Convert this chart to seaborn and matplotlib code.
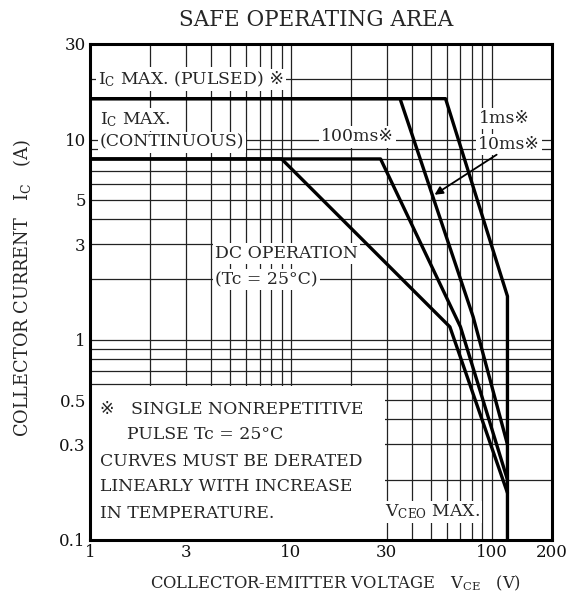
import matplotlib
matplotlib.use("Agg")
import matplotlib.pyplot as plt
import matplotlib.ticker as mticker
from matplotlib.patches import Rectangle
import seaborn as sns

# safe operating area curves (V_CE in V, I_C in A)
dc_v = [1, 9, 62, 120]
dc_i = [8, 8, 1.16, 0.172]
ms100_v = [1, 28, 70, 120]
ms100_i = [8, 8, 1.16, 0.20]
ms10_v = [1, 35, 81, 120]
ms10_i = [16, 16, 1.30, 0.30]
ms1_v = [1, 59, 120, 120]
ms1_i = [16, 16, 1.65, 0.1]

x_major = [1, 3, 10, 30, 100, 200]
x_labels = ["1", "3", "10", "30", "100", "200"]
y_major = [0.1, 0.3, 0.5, 1, 3, 5, 10, 30]
y_labels = ["0.1", "0.3", "0.5", "1", "3", "5", "10", "30"]

sns.set_style("white")
fam = ["DejaVu Serif", "DejaVu Sans", "Noto Sans CJK JP"]
plt.rcParams["font.family"] = fam
plt.rcParams["mathtext.default"] = "regular"

fig = plt.figure(figsize=(5.75, 6.04), dpi=100)
ax = fig.add_axes([90 / 575, 64 / 604, 462 / 575, 496 / 604])

for v, i in [(dc_v, dc_i), (ms100_v, ms100_i), (ms10_v, ms10_i), (ms1_v, ms1_i)]:
    sns.lineplot(x=v, y=i, ax=ax, color="black", lw=2.4, sort=False,
                 estimator=None, zorder=4)

ax.set_xscale("log")
ax.set_yscale("log")
ax.set_xlim(1, 200)
ax.set_ylim(0.1, 30)
ax.xaxis.set_major_locator(mticker.FixedLocator(x_major))
ax.xaxis.set_major_formatter(mticker.FixedFormatter(x_labels))
ax.yaxis.set_major_locator(mticker.FixedLocator(y_major))
ax.yaxis.set_major_formatter(mticker.FixedFormatter(y_labels))
ax.xaxis.set_minor_locator(mticker.LogLocator(base=10, subs=range(1, 10), numticks=20))
ax.yaxis.set_minor_locator(mticker.LogLocator(base=10, subs=range(1, 10), numticks=20))
ax.xaxis.set_minor_formatter(mticker.NullFormatter())
ax.yaxis.set_minor_formatter(mticker.NullFormatter())
ax.tick_params(which="both", length=0, labelsize=12, pad=3, labelcolor="#111111")
ax.set_axisbelow(True)
ax.grid(which="both", color="#222222", lw=0.9)
for s in ax.spines.values():
    s.set_linewidth(2.2)
    s.set_color("black")

# white area behind the note
ax.add_patch(Rectangle((1, 0.1), 28.6, 0.49, facecolor="white", edgecolor="none", zorder=1))

box = dict(facecolor="white", edgecolor="none", pad=1.5)
fs = 12.4
t = ax.text(1.1, 20, r"$I_C$ MAX. (PULSED)", fontsize=fs, va="center", bbox=box, zorder=3)
# mark drawn separately (mathtext string cannot fall back to another font)
ax.annotate(" ※", xy=(1, 0.5), xycoords=t, xytext=(0, 0), textcoords="offset points",
            fontsize=fs, va="center", ha="left", bbox=box, zorder=2.5)
ax.text(1.12, 12.6, r"$I_C$ MAX.", fontsize=fs, va="center", bbox=box, zorder=3)
ax.text(1.12, 9.7, "(CONTINUOUS)", fontsize=fs, va="center", bbox=box, zorder=3)
ax.text(21.4, 10.3, "100ms※", fontsize=fs, ha="center", va="center", bbox=box, zorder=3)
ax.text(116, 12.8, "1ms※", fontsize=fs, ha="center", va="center", bbox=box, zorder=3)
ax.text(122, 9.4, "10ms※", fontsize=fs, ha="center", va="center", bbox=box, zorder=3)
ax.text(4.2, 2.71, "DC OPERATION", fontsize=fs, va="center", bbox=box, zorder=3)
ax.text(4.2, 1.99, "(Tc = 25°C)", fontsize=fs, va="center", bbox=box, zorder=3)
ax.text(29.5, 0.138, r"$V_{CEO}$ MAX.", fontsize=fs, va="center", bbox=box, zorder=3)

ax.annotate("", xy=(52, 5.3), xytext=(106, 8.4),
            arrowprops=dict(arrowstyle="-|>", color="black", lw=1.3,
                            mutation_scale=12, shrinkA=0, shrinkB=0), zorder=5)

note = [
    (1.12, 0.451, "※   SINGLE NONREPETITIVE"),
    (1.52, 0.338, "PULSE Tc = 25°C"),
    (1.12, 0.248, "CURVES MUST BE DERATED"),
    (1.12, 0.184, "LINEARLY WITH INCREASE"),
    (1.12, 0.136, "IN TEMPERATURE."),
]
for x, y, s in note:
    ax.text(x, y, s, fontsize=fs, va="center", zorder=3)

fig.text(316 / 575, 1 - 20 / 604, "SAFE OPERATING AREA", fontsize=15.5,
         ha="center", va="center")
fig.text(335 / 575, 1 - 583 / 604, r"COLLECTOR-EMITTER VOLTAGE   $V_{CE}$   (V)",
         fontsize=11.8, ha="center", va="center")
fig.text(22 / 575, 1 - 288 / 604, r"COLLECTOR CURRENT   $I_C$   (A)",
         fontsize=12.8, ha="center", va="center", rotation=90)

fig.savefig("out.png", dpi=100)
